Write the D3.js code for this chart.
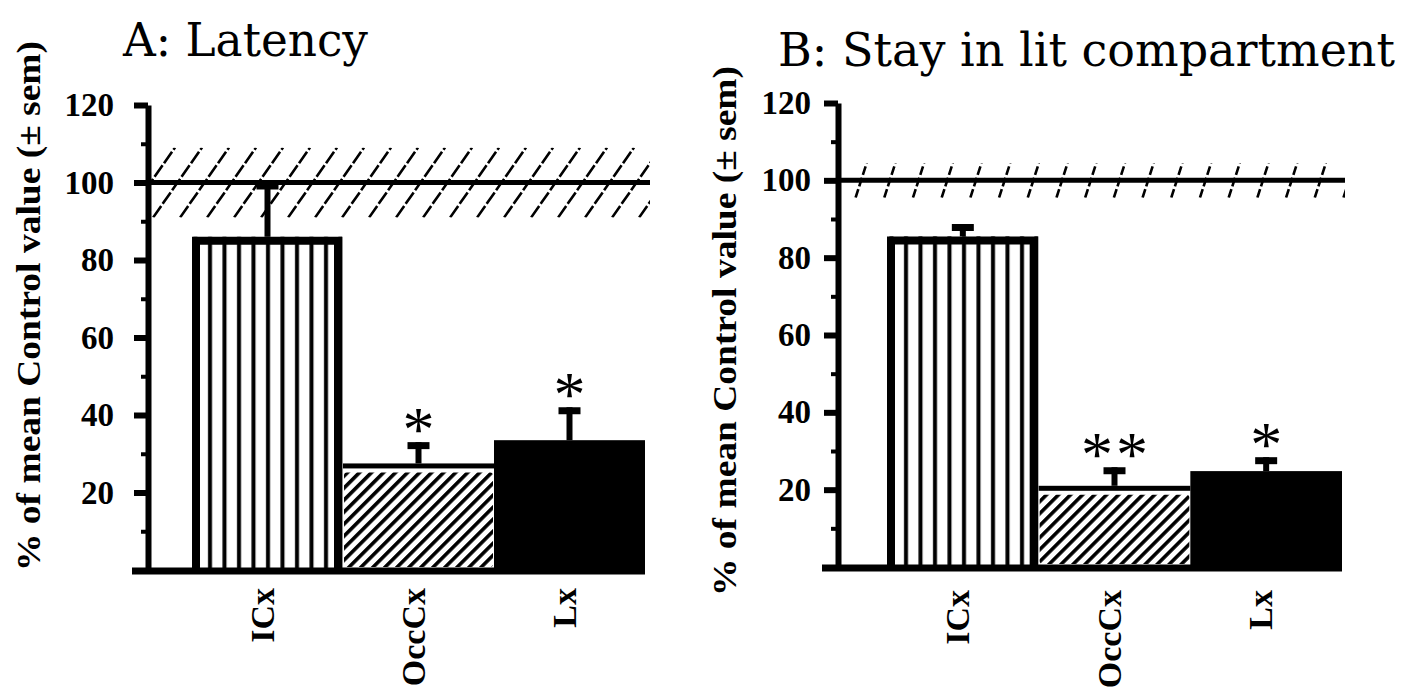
<!DOCTYPE html>
<html>
<head>
<meta charset="utf-8">
<script src="https://cdn.jsdelivr.net/npm/d3@7"></script>
<style>
	body { margin: 0; background: #fff; }
	svg text { font-family: "Liberation Serif", "Times New Roman", serif; fill: #000; }
</style>
</head>
<body>
<div id="chart"></div>
<script>
var categories = ["ICx", "OccCx", "Lx"],
	latencyMean = [86, 27.5, 33.5],
	latencySem = [14, 5.5, 8.5],
	latencyStars = ["", "*", "*"],
	stayMean = [85.5, 21, 24.8],
	staySem = [3.2, 4.8, 3.6],
	stayStars = ["", "**", "*"],
	controlMean = 100,
	latencyControlSem = 9,
	stayControlSem = 4.5,
	majorTicks = [20, 40, 60, 80, 100, 120],
	minorTicks = [10, 30, 50, 70, 90, 110],
	yTitle = "% of mean Control value (\u00b1 sem)",
	panelTitles = ["A: Latency", "B: Stay in lit compartment"];

var svg_width = 1406,
	svg_height = 693;

var svg = d3.select("#chart").append("svg")
	.attr("width", svg_width)
	.attr("height", svg_height);

var defs = svg.append("defs");

// vertical stripes for the first bar
var vl = defs.append("pattern")
	.attr("id", "vlines")
	.attr("patternUnits", "userSpaceOnUse")
	.attr("width", 14.5).attr("height", 10);
vl.append("rect").attr("width", 14.5).attr("height", 10).attr("fill", "#fff");
vl.append("rect").attr("x", 5).attr("width", 4).attr("height", 10).attr("fill", "#000");

// "/" hatch for the second bar
var dg = defs.append("pattern")
	.attr("id", "diag")
	.attr("patternUnits", "userSpaceOnUse")
	.attr("width", 8.5).attr("height", 8.5)
	.attr("patternTransform", "rotate(45)");
dg.append("rect").attr("width", 8.5).attr("height", 8.5).attr("fill", "#fff");
dg.append("rect").attr("x", 0).attr("width", 3.6).attr("height", 8.5).attr("fill", "#000");

var panels = [
	{ id: "a", title: panelTitles[0], mean: latencyMean, sem: latencySem, stars: latencyStars, controlSem: latencyControlSem,
	  ox: 148, barRange: [192, 645], y0: 570, yTop: 105, bandEnd: 650, bandStep: 27, bandSlope: 0.7, bandDash: "14,2.5",
	  tickPad: 20, titleX: 123, titleY: 56, titleW: 245,
	  labelX: 40, labelY: 306, catY: 588 },
	{ id: "b", title: panelTitles[1], mean: stayMean, sem: staySem, stars: stayStars, controlSem: stayControlSem,
	  ox: 838, barRange: [887, 1342], y0: 567, yTop: 103, bandEnd: 1345, bandStep: 28.7, bandSlope: 0.32, bandDash: "9,3",
	  tickPad: 13, titleX: 778, titleY: 66, titleW: 617,
	  labelX: 736, labelY: 331, catY: 590 }
];

function drawPanel(p) {
	var g = svg.append("g").attr("class", "panel-" + p.id);

	var x = d3.scaleBand().domain(categories).range(p.barRange).padding(0),
		y = d3.scaleLinear().domain([0, 120]).range([p.y0, p.yTop]),
		bw = x.bandwidth();

	// title
	g.append("text")
		.attr("x", p.titleX)
		.attr("y", p.titleY)
		.attr("textLength", p.titleW)
		.attr("lengthAdjust", "spacingAndGlyphs")
		.style("font-family", "'DejaVu Serif', serif")
		.style("font-size", "46px")
		.text(p.title);

	// y axis title
	g.append("text")
		.attr("transform", "translate(" + p.labelX + "," + p.labelY + ") rotate(-90)")
		.attr("text-anchor", "middle")
		.attr("textLength", 530)
		.attr("lengthAdjust", "spacingAndGlyphs")
		.style("font-size", "33px")
		.style("font-weight", "bold")
		.text(yTitle);

	// control band: mean line with hatched +/- sem
	var bandTop = y(controlMean + p.controlSem),
		bandBot = y(controlMean - p.controlSem),
		bandH = bandBot - bandTop;

	g.append("clipPath").attr("id", "band-" + p.id)
		.append("rect")
		.attr("x", p.ox).attr("y", bandTop)
		.attr("width", p.bandEnd - p.ox).attr("height", bandH);

	g.append("g")
		.attr("clip-path", "url(#band-" + p.id + ")")
		.selectAll("line")
		.data(d3.range(p.ox - bandH * p.bandSlope, p.bandEnd, p.bandStep))
		.enter().append("line")
		.attr("x1", function (d) { return d; })
		.attr("y1", bandBot)
		.attr("x2", function (d) { return d + bandH * p.bandSlope; })
		.attr("y2", bandTop)
		.attr("stroke", "#000")
		.attr("stroke-width", 2.6)
		.attr("stroke-dasharray", p.bandDash);

	g.append("line")
		.attr("x1", p.ox).attr("x2", p.bandEnd)
		.attr("y1", y(controlMean)).attr("y2", y(controlMean))
		.attr("stroke", "#000")
		.attr("stroke-width", 5);

	// bars
	var bars = g.append("g").selectAll("g.bar")
		.data(categories).enter().append("g")
		.attr("class", "bar");

	bars.each(function (c, i) {
		var b = d3.select(this),
			bx = x(c),
			top = y(p.mean[i]);
		if (i == 0) {
			b.append("rect")
				.attr("x", bx).attr("y", top)
				.attr("width", bw).attr("height", p.y0 - top)
				.attr("fill", "url(#vlines)");
			b.append("path")
				.attr("d", "M" + (bx + 4) + "," + p.y0 + "V" + (top + 4) + "H" + (bx + bw - 5) + "V" + p.y0)
				.attr("fill", "none")
				.attr("stroke", "#000")
				.attr("stroke-width", 8);
		} else if (i == 1) {
			b.append("rect")
				.attr("x", bx).attr("y", top)
				.attr("width", bw).attr("height", 5)
				.attr("fill", "#000");
			b.append("rect")
				.attr("x", bx + 1).attr("y", top + 9)
				.attr("width", bw - 2).attr("height", p.y0 - top - 12)
				.attr("rx", 3)
				.attr("fill", "url(#diag)");
		} else {
			b.append("rect")
				.attr("x", bx).attr("y", top)
				.attr("width", bw).attr("height", p.y0 - top)
				.attr("fill", "#000");
		}

		// error bar
		var cx = bx + bw / 2,
			errTop = y(p.mean[i] + p.sem[i]);
		b.append("line")
			.attr("x1", cx).attr("x2", cx)
			.attr("y1", top).attr("y2", errTop)
			.attr("stroke", "#000").attr("stroke-width", 6);
		b.append("line")
			.attr("x1", cx - 11).attr("x2", cx + 11)
			.attr("y1", errTop + 3.5).attr("y2", errTop + 3.5)
			.attr("stroke", "#000").attr("stroke-width", 7);

		// significance stars
		var stars = p.stars[i].split(""),
			fs = 64;
		b.selectAll("text.star")
			.data(stars).enter().append("text")
			.attr("class", "star")
			.attr("x", function (d, k) { return cx + (k - (stars.length - 1) / 2) * 35; })
			.attr("y", errTop - 21 + 0.47 * fs)
			.attr("text-anchor", "middle")
			.style("font-size", fs + "px")
			.text(function (d) { return d; });
	});

	// baseline
	g.append("line")
		.attr("x1", p.ox - 16).attr("x2", p.barRange[1])
		.attr("y1", p.y0 + 1).attr("y2", p.y0 + 1)
		.attr("stroke", "#000").attr("stroke-width", 7);

	// y axis, major and minor ticks
	var yAxis = g.append("g")
		.attr("transform", "translate(" + p.ox + ",0)")
		.call(d3.axisLeft(y).tickValues(majorTicks).tickSize(14).tickSizeOuter(0).tickPadding(p.tickPad));
	yAxis.select(".domain").attr("stroke", "#000").attr("stroke-width", 6);
	yAxis.selectAll(".tick line").attr("stroke", "#000").attr("stroke-width", 6);
	yAxis.selectAll(".tick text")
		.attr("fill", "#000")
		.style("font-family", "'Liberation Serif', serif")
		.style("font-size", "33px")
		.style("font-weight", "bold");

	var yMinor = g.append("g")
		.attr("transform", "translate(" + p.ox + ",0)")
		.call(d3.axisLeft(y).tickValues(minorTicks).tickSize(7).tickFormat(""));
	yMinor.select(".domain").remove();
	yMinor.selectAll(".tick line").attr("stroke", "#000").attr("stroke-width", 4);

	// category labels
	var xAxis = g.append("g")
		.attr("transform", "translate(0," + p.y0 + ")")
		.call(d3.axisBottom(x).tickSize(0));
	xAxis.select(".domain").remove();
	xAxis.selectAll(".tick text")
		.attr("transform", "rotate(-90)")
		.attr("x", -(p.catY - p.y0))
		.attr("y", 6)
		.attr("dy", 0)
		.style("text-anchor", "end")
		.attr("fill", "#000")
		.style("font-family", "'Liberation Serif', serif")
		.style("font-size", "34px")
		.style("font-weight", "bold");
}

panels.forEach(drawPanel);
</script>
</body>
</html>
